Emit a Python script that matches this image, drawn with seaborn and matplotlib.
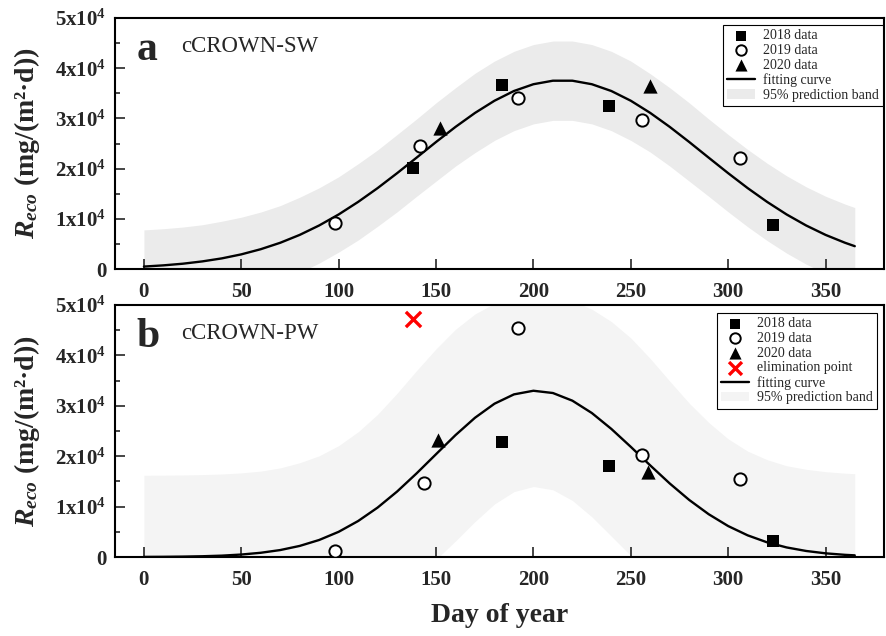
import numpy as np
import matplotlib
matplotlib.use("Agg")
import matplotlib.pyplot as plt
import seaborn as sns

# ---------------- data ----------------
day_ticks = [0, 50, 100, 150, 200, 250, 300, 350]
y_ticks = [0, 10000, 20000, 30000, 40000, 50000]
y_tick_labels = ["0", "1x10$^4$", "2x10$^4$", "3x10$^4$", "4x10$^4$", "5x10$^4$"]

# panel a : cCROWN-SW
sw_2018_day = [138, 184, 239, 323]
sw_2018_val = [20060, 36600, 32500, 8800]
sw_2019_day = [98, 142, 192, 256, 306]
sw_2019_val = [9100, 24600, 34100, 29700, 22050]
sw_2020_day = [152, 260]
sw_2020_val = [28150, 36500]

# panel b : cCROWN-PW
pw_2018_day = [184, 239, 323]
pw_2018_val = [22750, 18100, 3200]
pw_2019_day = [98, 144, 192, 256, 306]
pw_2019_val = [1250, 14750, 45400, 20200, 15400]
pw_2020_day = [151, 259]
pw_2020_val = [23200, 16900]
pw_elim_day = [138]
pw_elim_val = [47160]

# fitting curves and half widths of the 95% prediction bands
curve_day = [0, 10, 20, 30, 40, 50, 60, 70, 80, 90, 100, 110, 120, 130, 140,
             150, 160, 170, 180, 190, 200, 210, 220, 230, 240, 250, 260, 270,
             280, 290, 300, 310, 320, 330, 340, 350, 360, 365]
sw_fit = [490, 730, 1060, 1520, 2120, 2920, 3950, 5230, 6800, 8680, 10870,
          13370, 16120, 19090, 22180, 25300, 28310, 31090, 33520, 35460,
          36810, 37510, 37510, 36810, 35460, 33520, 31090, 28310, 25300,
          22180, 19090, 16120, 13370, 10870, 8680, 6800, 5230, 4550]
sw_band_half = [7300, 7300, 7300, 7300, 7400, 7400, 7400, 7400, 7500, 7500,
                7500, 7600, 7600, 7700, 7700, 7800, 7800, 7900, 7900, 7900,
                7900, 7900, 7900, 7900, 7900, 7900, 7800, 7800, 7800, 7700,
                7700, 7700, 7700, 7700, 7700, 7700, 7700, 7700]
pw_fit = [20, 40, 80, 150, 270, 490, 840, 1380, 2200, 3380, 5000, 7140, 9810,
          12990, 16590, 20400, 24190, 27630, 30420, 32270, 32990, 32540,
          31020, 28570, 25420, 21860, 18170, 14590, 11320, 8490, 6140, 4300,
          2910, 1900, 1200, 730, 430, 330]
pw_band_half = [16200, 16200, 16200, 16200, 16200, 16200, 16200, 16300,
                16500, 16700, 17100, 17700, 18500, 19500, 20400, 20900,
                21000, 20600, 19900, 19300, 19000, 19200, 19800, 20600,
                21300, 21600, 21200, 20300, 19200, 18200, 17300, 16700,
                16400, 16200, 16200, 16200, 16200, 16200]

# ---------------- style ----------------
sns.set_style("ticks")
plt.rcParams["font.family"] = ["Liberation Serif", "DejaVu Serif"]
plt.rcParams["font.weight"] = "bold"
plt.rcParams["mathtext.fontset"] = "custom"
plt.rcParams["mathtext.rm"] = "Liberation Serif:bold"
plt.rcParams["mathtext.it"] = "Liberation Serif:italic:bold"
plt.rcParams["mathtext.bf"] = "Liberation Serif:bold"

fig = plt.figure(figsize=(8.87, 6.36), dpi=100)
ax_a = fig.add_axes([0.1293, 0.577, 0.8673, 0.3947])
ax_b = fig.add_axes([0.1293, 0.1242, 0.8673, 0.3962])


def draw_panel(ax, d18, v18, d19, v19, d20, v20, fit, half, band_color,
               letter, name, leg_anchor, elim=None):
    fit = np.array(fit, dtype=float)
    half = np.array(half, dtype=float)
    ax.fill_between(curve_day, fit - half, fit + half, color=band_color,
                    linewidth=0, label="95% prediction band", zorder=0.5)
    sns.lineplot(x=curve_day, y=fit, ax=ax, color="black", linewidth=1.7,
                 label="fitting curve", sort=False, zorder=2)
    sns.scatterplot(x=d18, y=v18, ax=ax, marker="s", color="black", s=72,
                    linewidth=0, label="2018 data", zorder=3)
    sns.scatterplot(x=d19, y=v19, ax=ax, marker="o", color="white",
                    edgecolor="black", s=78, linewidth=1.4,
                    label="2019 data", zorder=3)
    sns.scatterplot(x=d20, y=v20, ax=ax, marker="^", color="black", s=105,
                    linewidth=0, label="2020 data", zorder=3)
    if elim is not None:
        sns.scatterplot(x=elim[0], y=elim[1], ax=ax, marker="x", color="red",
                        s=120, linewidth=2.4, label="elimination point",
                        zorder=3)

    ax.set_xlim(-15, 380)
    ax.set_ylim(0, 50000)
    ax.set_xticks(day_ticks)
    ax.set_xticklabels([str(t) for t in day_ticks])
    ax.set_yticks(y_ticks)
    ax.set_yticklabels(y_tick_labels)
    ax.set_yticks(np.arange(5000, 50000, 10000), minor=True)
    ax.tick_params(axis="both", which="major", direction="in", length=7,
                   width=1.2, labelsize=15)
    ax.tick_params(axis="x", which="major", pad=9)
    ax.tick_params(axis="y", which="major", pad=6)
    ax.tick_params(axis="y", which="minor", direction="in", length=3.5,
                   width=1.2)
    ax.tick_params(axis="x", which="minor", bottom=False)
    for sp in ax.spines.values():
        sp.set_linewidth(1.5)
        sp.set_color("black")
    ax.set_xlabel("")
    ax.set_ylabel("$R_{eco}$ (mg/(m²·d))", fontsize=20, fontweight="bold")
    ax.yaxis.set_label_coords(-0.095, 0.5)

    ax.text(0.028, 0.833, letter, transform=ax.transAxes, fontsize=30,
            fontweight="bold", va="baseline", ha="left")
    ax.text(0.087, 0.865, name, transform=ax.transAxes, fontsize=16.5,
            fontweight="normal", va="baseline", ha="left")

    order = ["2018 data", "2019 data", "2020 data", "elimination point",
             "fitting curve", "95% prediction band"]
    h, l = ax.get_legend_handles_labels()
    lut = dict(zip(l, h))
    labs = [o for o in order if o in lut]
    leg = ax.legend([lut[o] for o in labs], labs, loc="upper right",
                    bbox_to_anchor=leg_anchor, borderaxespad=0,
                    frameon=True, fancybox=False, framealpha=1,
                    edgecolor="black", prop={"size": 10, "weight": "normal"},
                    labelspacing=0.12, handlelength=2.0, handletextpad=0.6,
                    borderpad=0.3, markerscale=0.85)
    leg.get_frame().set_linewidth(0.8)


draw_panel(ax_a, sw_2018_day, sw_2018_val, sw_2019_day, sw_2019_val,
           sw_2020_day, sw_2020_val, sw_fit, sw_band_half, "#ebebeb",
           "a", "cCROWN-SW", (0.9987, 0.972))
draw_panel(ax_b, pw_2018_day, pw_2018_val, pw_2019_day, pw_2019_val,
           pw_2020_day, pw_2020_val, pw_fit, pw_band_half, "#f4f4f4",
           "b", "cCROWN-PW", (0.991, 0.968), elim=(pw_elim_day, pw_elim_val))

fig.text(0.563, 1 - 616 / 636, "Day of year", fontsize=20, fontweight="bold",
         ha="center", va="center")

fig.savefig("out.png", dpi=100)
